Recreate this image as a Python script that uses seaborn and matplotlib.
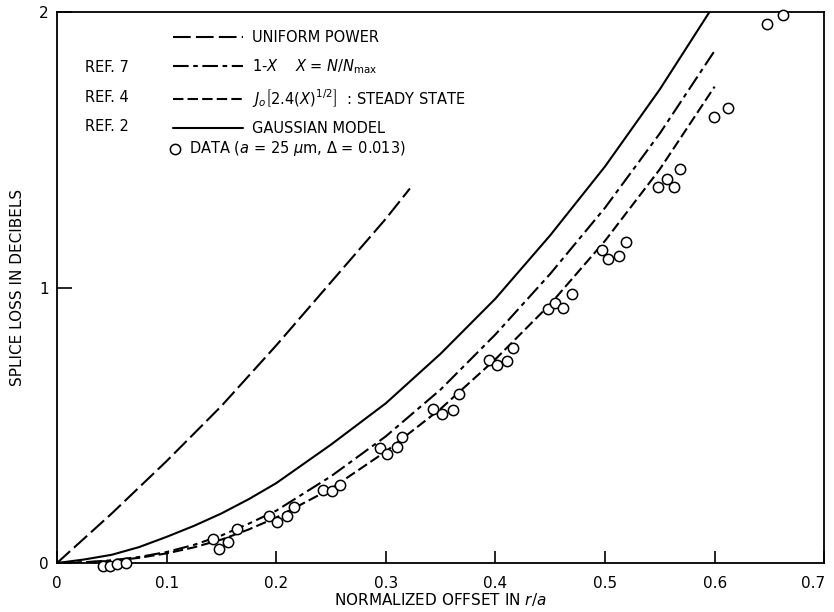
import matplotlib
matplotlib.use("Agg")
import matplotlib.pyplot as plt
import matplotlib.transforms as mtransforms
import seaborn as sns

# values (offset r/a, splice loss dB)
uniform_x = [0.0, 0.05, 0.10, 0.15, 0.20, 0.25, 0.30, 0.322]
uniform_y = [0.0, 0.18, 0.37, 0.57, 0.79, 1.02, 1.25, 1.36]

offset_grid = [0.0, 0.025, 0.05, 0.075, 0.10, 0.125, 0.15, 0.175, 0.20, 0.25,
               0.30, 0.35, 0.40, 0.45, 0.50, 0.55, 0.60]
ref7_y = [0.0, 0.003, 0.01, 0.022, 0.04, 0.066, 0.10, 0.143, 0.19, 0.315,
          0.46, 0.63, 0.83, 1.05, 1.29, 1.56, 1.86]
ref4_y = [0.0, 0.002, 0.008, 0.019, 0.035, 0.057, 0.085, 0.122, 0.165, 0.27,
          0.405, 0.56, 0.74, 0.94, 1.17, 1.43, 1.73]
gauss_y = [0.0, 0.013, 0.03, 0.058, 0.095, 0.135, 0.18, 0.232, 0.29, 0.43,
           0.58, 0.76, 0.96, 1.19, 1.44, 1.72, 2.03]

data_x = [0.042, 0.048, 0.055, 0.063, 0.142, 0.148, 0.156, 0.164, 0.193, 0.201,
          0.210, 0.216, 0.243, 0.251, 0.258, 0.295, 0.301, 0.310, 0.315, 0.343,
          0.351, 0.361, 0.367, 0.394, 0.401, 0.411, 0.416, 0.448, 0.454, 0.462,
          0.470, 0.497, 0.503, 0.513, 0.519, 0.548, 0.557, 0.563, 0.568, 0.599,
          0.612, 0.648, 0.662]
data_y = [-0.01, -0.01, -0.005, 0.0, 0.087, 0.051, 0.076, 0.123, 0.171, 0.149,
          0.171, 0.203, 0.265, 0.261, 0.283, 0.417, 0.396, 0.421, 0.457, 0.559,
          0.541, 0.555, 0.613, 0.737, 0.719, 0.733, 0.780, 0.922, 0.944, 0.926,
          0.976, 1.136, 1.103, 1.114, 1.165, 1.365, 1.394, 1.365, 1.430, 1.619,
          1.652, 1.956, 1.989]

x_ticks = [0, 0.1, 0.2, 0.3, 0.4, 0.5, 0.6, 0.7]
x_tick_labels = ["0", "0.1", "0.2", "0.3", "0.4", "0.5", "0.6", "0.7"]
y_ticks = [0, 1, 2]

sns.set_style("ticks")
plt.rcParams["font.family"] = ["DejaVu Sans"]
plt.rcParams["mathtext.fontset"] = "dejavusans"
plt.rcParams["xtick.direction"] = "in"
plt.rcParams["ytick.direction"] = "in"
for key in ["text.color", "axes.labelcolor", "xtick.color", "ytick.color",
            "axes.edgecolor"]:
    plt.rcParams[key] = "black"

fig = plt.figure(figsize=(8.34, 6.12), dpi=100)
ax = fig.add_axes([0.0683, 0.080, 0.920, 0.900])

lw = 1.5
sns.lineplot(x=uniform_x, y=uniform_y, ax=ax, color="black", lw=lw,
             linestyle=(0, (8.5, 2.5)), sort=False, estimator=None,
             label="UNIFORM POWER")
sns.lineplot(x=offset_grid, y=ref7_y, ax=ax, color="black", lw=lw,
             linestyle=(0, (7.5, 2.2, 2.2, 2.2)), sort=False, estimator=None,
             label=r"1-$X$    $X$ = $N/N_{\rm max}$")
sns.lineplot(x=offset_grid, y=ref4_y, ax=ax, color="black", lw=lw,
             linestyle=(0, (5, 2)), sort=False, estimator=None,
             label=r"$J_o\left[2.4(X)^{1/2}\right]$  : STEADY STATE")
sns.lineplot(x=offset_grid, y=gauss_y, ax=ax, color="black", lw=lw,
             sort=False, estimator=None, label="GAUSSIAN MODEL")
sns.scatterplot(x=data_x, y=data_y, ax=ax, marker="o", s=55,
                facecolor="white", edgecolor="black", linewidth=1.1,
                zorder=5, clip_on=False,
                label=r"DATA ($a$ = 25 $\mu$m, $\Delta$ = 0.013)")

handles, labels = ax.get_legend_handles_labels()
leg1 = ax.legend(handles[:4], labels[:4], loc="upper left",
                 bbox_to_anchor=(0.151, 0.968), frameon=False, fontsize=10.5,
                 handlelength=4.8, handletextpad=0.6, labelspacing=0.82,
                 borderpad=0, borderaxespad=0)
ax.add_artist(leg1)
ax.legend(handles[4:], labels[4:], loc="upper left",
          bbox_to_anchor=(0.145, 0.77), frameon=False, fontsize=10.5,
          handlelength=0.9, handletextpad=0.5, borderpad=0, borderaxespad=0)

for lab, yy in [("REF. 7", 0.900), ("REF. 4", 0.846), ("REF. 2", 0.793)]:
    ax.text(0.036, yy, lab, transform=ax.transAxes, fontsize=10.5,
            va="center", ha="left")

ax.set_xlim(0, 0.7)
ax.set_ylim(0, 2)
ax.set_xticks(x_ticks)
ax.set_xticklabels(x_tick_labels)
ax.set_yticks(y_ticks)
ax.tick_params(axis="x", length=8.5, width=1.2, pad=9, labelsize=11)
ax.tick_params(axis="y", length=10.5, width=1.2, pad=6, labelsize=11)
for sp in ax.spines.values():
    sp.set_linewidth(1.3)
    sp.set_visible(True)

# last tick label sits flush with the figure edge
last = ax.get_xticklabels()[-1]
last.set_transform(last.get_transform() +
                   mtransforms.ScaledTranslation(-8 / 72, 0, fig.dpi_scale_trans))

ax.set_xlabel(r"NORMALIZED OFFSET IN $r/a$", fontsize=11, labelpad=0)
ax.set_ylabel("SPLICE LOSS IN DECIBELS", fontsize=11, labelpad=10)

fig.savefig("out.png", dpi=100)
